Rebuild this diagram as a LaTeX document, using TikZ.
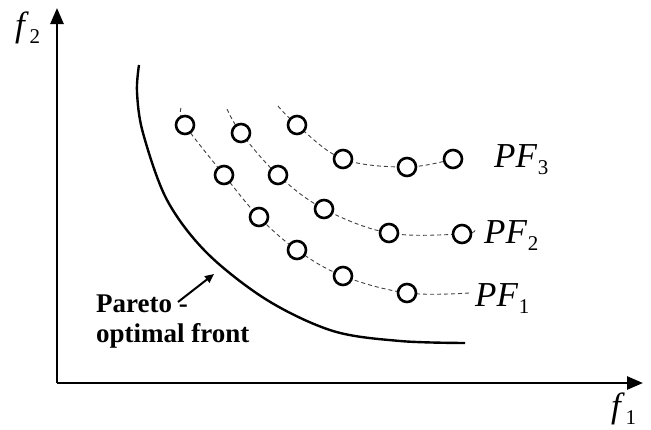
\documentclass[tikz,border=0pt]{standalone}
\usepackage{fontspec}
\setmainfont{Liberation Serif}
\usetikzlibrary{arrows.meta}
\newcommand{\lbl}[2]{\fontsize{35}{35}\selectfont\textit{#1}\kern0.02em\raisebox{-0.2em}{\fontsize{21}{21}\selectfont #2}}
\tikzset{
  pt/.style={circle,draw,line width=2.6pt,fill=white,minimum size=18pt,inner sep=0pt},
  front/.style={dashed,dash pattern=on 4pt off 3pt,line width=0.9pt,black!75},
  axis/.style={line width=2.6pt,-{Triangle[length=16pt,width=13pt]}},
  lab/.style={inner sep=0pt,anchor=base west}
}
\begin{document}
\begin{tikzpicture}[x=1pt,y=-1pt]
\useasboundingbox (0,0) rectangle (651,429);
% axes
\coordinate (o) at (57,383);
\coordinate (ytip) at (57,8);
\coordinate (xtip) at (643,383);
\draw[axis] (o) -- (ytip);
\draw[axis] (o) -- (xtip);
\node[lab] (f2) at (15,36) {\lbl{f}{2}};
\node[lab] (f1) at (611,417) {\lbl{f}{1}};
% Pareto front
\draw[line width=2.4pt] plot[smooth,tension=0.55] coordinates {(139,65) (137,92) (143,133) (167,200) (207,253) (267,300) (333,331) (400,341) (465,343)};
% dashed fronts
\draw[front] plot[smooth,tension=0.6] coordinates {(181,108) (185,125) (224,175) (259,217) (297,250) (343,276) (407,293) (469,293)};
\draw[front] plot[smooth,tension=0.6] coordinates {(227,109) (241,133) (278,175) (324,209) (389,233) (462,234) (475,230)};
\draw[front] plot[smooth,tension=0.6] coordinates {(278,106) (297,125) (343,159) (407,167) (453,159)};
% points
\node[pt] (a1) at (185,125) {};
\node[pt] (a2) at (224,175) {};
\node[pt] (a3) at (259,217) {};
\node[pt] (a4) at (297,250) {};
\node[pt] (a5) at (343,276) {};
\node[pt] (a6) at (407,293) {};
\node[pt] (b1) at (241,133) {};
\node[pt] (b2) at (278,175) {};
\node[pt] (b3) at (324,209) {};
\node[pt] (b4) at (389,233) {};
\node[pt] (b5) at (462,234) {};
\node[pt] (c1) at (297,125) {};
\node[pt] (c2) at (343,159) {};
\node[pt] (c3) at (407,167) {};
\node[pt] (c4) at (453,159) {};
% labels
\node[lab] (pf3) at (494,167) {\lbl{PF}{3}};
\node[lab] (pf2) at (484,243) {\lbl{PF}{2}};
\node[lab] (pf1) at (475,306) {\lbl{PF}{1}};
\node[lab] (par) at (96,312) {\fontsize{27}{27}\selectfont\bfseries Pareto -};
\node[lab] (opt) at (96,342) {\fontsize{27}{27}\selectfont\bfseries optimal front};
\coordinate (arrtip) at (214,274);
\draw[line width=2pt,-{Triangle[length=9pt,width=8pt]}] (178,302) -- (arrtip);
\end{tikzpicture}
\end{document}
